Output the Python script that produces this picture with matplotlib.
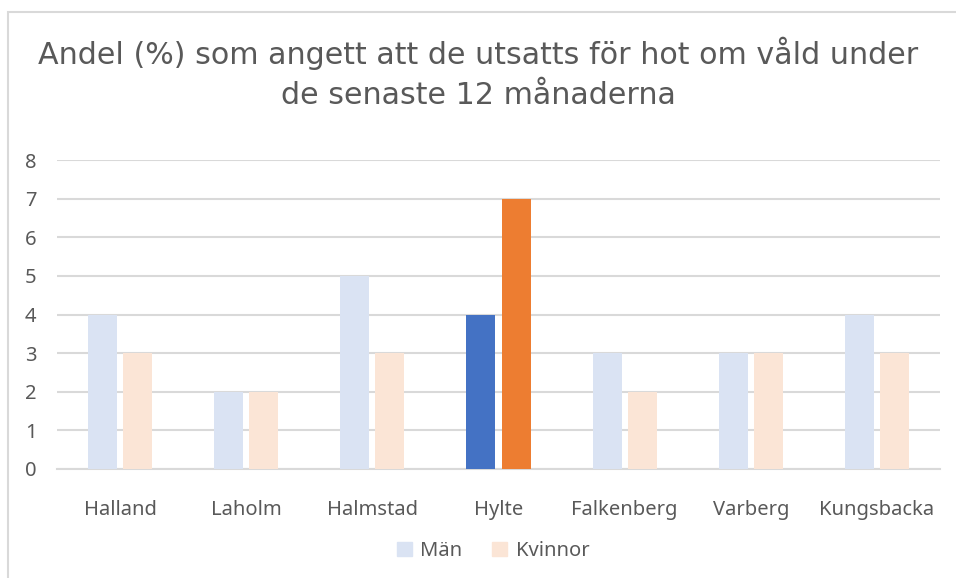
import matplotlib.pyplot as plt
import numpy as np
from matplotlib.patches import Rectangle

kommuner = ["Halland", "Laholm", "Halmstad", "Hylte", "Falkenberg", "Varberg", "Kungsbacka"]
man = [4, 2, 5, 4, 3, 3, 4]
kvinnor = [3, 2, 3, 7, 2, 3, 3]
markerad = "Hylte"

W, H = 956, 578
fig = plt.figure(figsize=(W / 100, H / 100), dpi=100)
# ram runt diagrammet (bara vänster och överkant syns)
fig.patches.append(Rectangle((8 / W, -0.1), 1.2, 1.1 - 12 / H, transform=fig.transFigure,
                             fill=False, edgecolor="#D9D9D9", linewidth=1.5))

ax = fig.add_axes([57 / W, 1 - 469 / H, (940 - 57) / W, (469 - 160) / H])

text_col = "#595959"
x = np.arange(len(kommuner))
bw = 0.23
off = 0.139
col_m = ["#4472C4" if k == markerad else "#DAE3F3" for k in kommuner]
col_k = ["#ED7D31" if k == markerad else "#FBE5D6" for k in kommuner]
ax.bar(x - off, man, bw, color=col_m, zorder=3)
ax.bar(x + off, kvinnor, bw, color=col_k, zorder=3)

ax.set_xlim(-0.5, len(kommuner) - 0.5)
ax.set_ylim(0, 8)
ax.set_yticks(range(0, 9))
ax.grid(axis="y", color="#D9D9D9", linewidth=1.5, zorder=0)
for s in ["top", "right", "left"]:
    ax.spines[s].set_visible(False)
ax.spines["bottom"].set_color("#D9D9D9")
ax.spines["bottom"].set_linewidth(1.5)
ax.tick_params(length=0, colors=text_col, labelsize=14.5)
ax.tick_params(axis="x", pad=22)
ax.tick_params(axis="y", pad=23)
ax.set_xticks(x)
ax.set_xticklabels(kommuner, family="Noto Sans")
for t in ax.get_yticklabels():
    t.set_family("Noto Sans")
    t.set_horizontalalignment("left")

fig.text(0.5, 1 - 53 / H, "Andel (%) som angett att de utsatts för hot om våld under",
         ha="center", va="center", fontsize=21.7, color=text_col)
fig.text(0.5, 1 - 96 / H, "de senaste 12 månaderna",
         ha="center", va="center", fontsize=21.7, color=text_col)

h1 = Rectangle((0, 0), 1, 1, color="#DAE3F3")
h2 = Rectangle((0, 0), 1, 1, color="#FBE5D6")
leg = fig.legend([h1, h2], ["Män", "Kvinnor"], loc="center", bbox_to_anchor=(493 / W, 1 - 551 / H),
                 ncol=2, frameon=False, handlelength=0.75, handleheight=0.75,
                 handletextpad=0.4, columnspacing=1.5, prop={"family": "Noto Sans", "size": 14.5})
for t in leg.get_texts():
    t.set_color(text_col)

fig.savefig("out.png", dpi=100)
